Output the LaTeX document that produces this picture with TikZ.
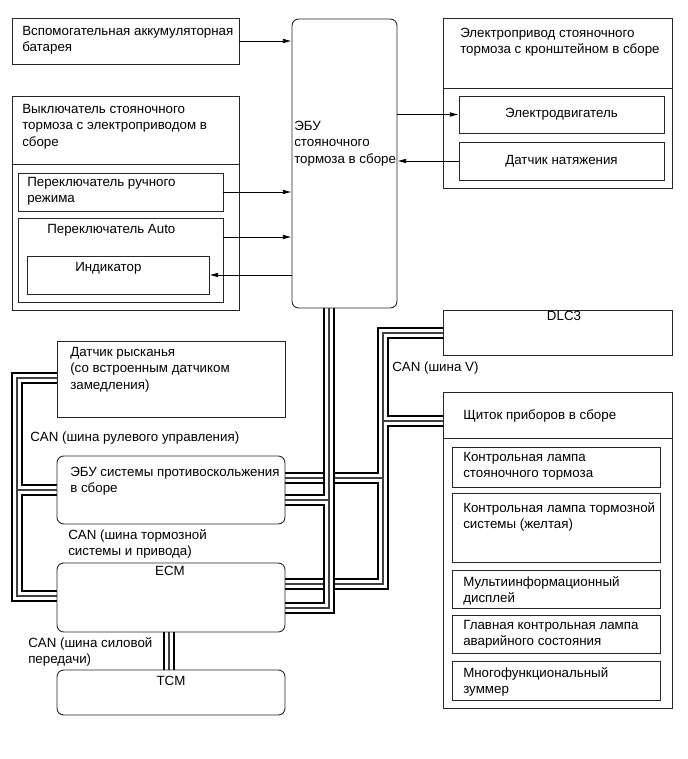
\documentclass[tikz,border=0pt]{standalone}
\usepackage{fontspec}
\setmainfont{Liberation Sans}
\usetikzlibrary{fit,arrows.meta}
\pgfdeclarelayer{back}
\pgfdeclarelayer{bg}
\pgfsetlayers{back,bg,main}
\begin{document}
\begin{tikzpicture}[x=0.75pt,y=-0.75pt,
 box/.style={draw=black!85, line width=0.7pt, inner sep=0pt, rectangle},
 rbox/.style={box, rounded corners=5pt},
 sepline/.style={draw=black!85, line width=0.7pt},
 txt/.style={font=\fontsize{10}{12.3}\selectfont, inner sep=0pt, align=left, anchor=north west},
 ctxt/.style={font=\fontsize{10}{12}\selectfont, inner sep=0pt, anchor=north},
 mtxt/.style={font=\fontsize{10}{12}\selectfont, inner sep=0pt, anchor=center},
 arr/.style={draw=black, line width=0.6pt, -{Latex[length=6.5pt,width=3.5pt]}},
 busk/.style={draw=black, line width=9pt, line join=miter},
 busw/.style={draw=white, line width=5.4pt, line join=miter},
 busg/.style={draw=black!75, line width=0.8pt, line join=miter},
]
\begin{pgfonlayer}{back}
\fill[white] (0,0) rectangle (687,759);
\end{pgfonlayer}
\useasboundingbox (0,0) rectangle (687,759);

% ---------- boxes ----------
\node[box, fit={(12,18)(239,64)}] (bat) {};
\node[box, fit={(12,96)(239,310)}] (sw) {};
\draw[sepline] (sw.west |- 0,164) -- (sw.east |- 0,164);
\node[box, fit={(18,173)(223,211)}] (man) {};
\node[box, fit={(18,218)(223,302)}] (auto) {};
\node[box, fit={(27,256)(209,294)}] (ind) {};
\node[rbox, fit={(292,19)(397,308)}] (ecu) {};
\node[box, fit={(443,18)(672,188)}] (drv) {};
\draw[sepline] (drv.west |- 0,88) -- (drv.east |- 0,88);
\node[box, fit={(459,96)(664,133)}] (mot) {};
\node[box, fit={(459,142)(664,180)}] (tens) {};
\node[box, fit={(443,310)(672,355)}] (dlc) {};
\node[box, fit={(443,392)(672,708)}] (clu) {};
\draw[sepline] (clu.west |- 0,438) -- (clu.east |- 0,438);
\node[box, fit={(452,447)(660,487)}] (l1) {};
\node[box, fit={(452,493)(660,562)}] (l2) {};
\node[box, fit={(452,570)(660,608)}] (l3) {};
\node[box, fit={(452,615)(660,653)}] (l4) {};
\node[box, fit={(452,661)(660,700)}] (l5) {};
\node[box, fit={(57,341)(285,417)}] (yaw) {};
\node[rbox, fit={(57,456)(285,524)}] (abs) {};
\node[rbox, fit={(57,563)(285,632)}] (ecm) {};
\node[rbox, fit={(57,670)(285,715)}] (tcm) {};

% ---------- texts ----------
\node[txt] (tbat) at (22,26) {Вспомогательная аккумуляторная\\батарея};
\node[txt] (tsw) at (22,104) {Выключатель стояночного\\тормоза с электроприводом в\\сборе};
\node[txt] (tman) at (27,177) {Переключатель ручного\\режима};
\node[txt] (tauto) at (47,224) {Переключатель Auto};
\node[txt] (tind) at (75,262) {Индикатор};
\node[txt] (tecu) at (294,121) {ЭБУ\\стояночного\\тормоза в сборе};
\node[txt] (tdrv) at (460,28) {Электропривод стояночного\\тормоза с кронштейном в сборе};
\node[mtxt] (tmot) at (mot) {Электродвигатель};
\node[mtxt] (ttens) at (tens) {Датчик натяжения};
\node[ctxt] (tdlc) at (564,311) {DLC3};
\node[txt] (tcanv) at (392,362) {CAN (шина V)};
\node[txt] (tclu) at (463,409) {Щиток приборов в сборе};
\node[txt] (tl1) at (463,452) {Контрольная лампа\\стояночного тормоза};
\node[txt] (tl2) at (463,502) {Контрольная лампа тормозной\\системы (желтая)};
\node[txt] (tl3) at (463,576) {Мультиинформационный\\дисплей};
\node[txt] (tl4) at (463,620) {Главная контрольная лампа\\аварийного состояния};
\node[txt] (tl5) at (463,667) {Многофункциональный\\зуммер};
\node[txt] (tyaw) at (70,347) {Датчик рысканья\\(со встроенным датчиком\\замедления)};
\node[txt] (tcans) at (30,432) {CAN (шина рулевого управления)};
\node[txt] (tabs) at (70,467) {ЭБУ системы противоскольжения\\в сборе};
\node[txt] (tcanb) at (68,529) {CAN (шина тормозной\\системы и привода)};
\node[ctxt] (tecm) at (170,566) {ECM};
\node[txt] (tcanp) at (28,637) {CAN (шина силовой\\передачи)};
\node[ctxt] (ttcm) at (171,676) {TCM};

% ---------- arrows ----------
\draw[arr] (bat.east) -- (bat.east -| ecu.west);
\draw[arr] (mot.west -| ecu.east) -- (mot.west);
\draw[arr] (tens.west) -- (tens.west -| ecu.east);
\draw[arr] (man.east) -- (man.east -| ecu.west);
\draw[arr] (auto.east |- 0,237) -- (ecu.west |- 0,237);
\draw[arr] (ind.east -| ecu.west) -- (ind.east);

% ---------- buses ----------
\begin{pgfonlayer}{bg}
\foreach \s in {busk,busw,busg}{
  \draw[\s] (dlc.west |- 0,333) -- (383,333) -- (383,584) -- (ecm.east |- 0,584)
            (383,421) -- (clu.west |- 0,421)
            (383,478) -- (abs.east |- 0,478);
}
\foreach \s in {busk,busw,busg}{
  \draw[\s] (ecu.south -| 329,0) -- (329,608) -- (ecm.east |- 0,608)
            (329,500) -- (abs.east |- 0,500);
}
\foreach \s in {busk,busw,busg}{
  \draw[\s] (yaw.west |- 0,378) -- (17,378) -- (17,596) -- (ecm.west |- 0,596)
            (17,490) -- (abs.west |- 0,490);
}
\foreach \s in {busk,busw,busg}{
  \draw[\s] (ecm.south -| 169,0) -- (tcm.north -| 169,0);
}
\end{pgfonlayer}
\end{tikzpicture}
\end{document}
